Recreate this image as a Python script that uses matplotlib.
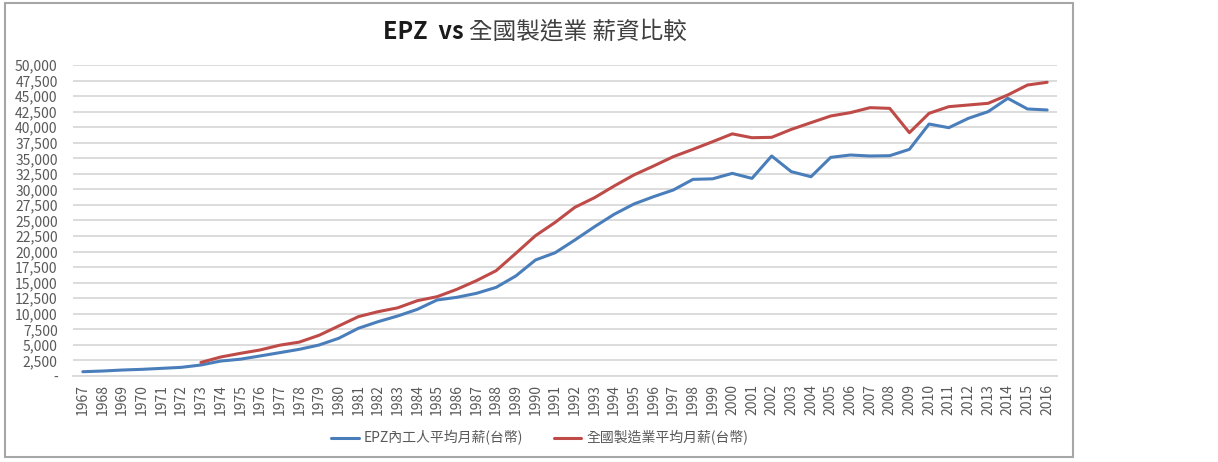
import matplotlib
matplotlib.use("Agg")
import matplotlib.pyplot as plt
from matplotlib.patches import Rectangle
from matplotlib.ticker import FuncFormatter, MultipleLocator

plt.rcParams['font.family'] = ['Noto Sans CJK TC', 'DejaVu Sans']

years = list(range(1967, 2017))

# EPZ worker average monthly wage (NTD)
epz_wage = [690, 800, 960, 1070, 1230, 1390, 1770, 2400, 2700, 3220,
            3750, 4290, 4980, 6060, 7670, 8730, 9650, 10720, 12220, 12650,
            13290, 14250, 16080, 18650, 19820, 21860, 24000, 26000, 27650, 28830,
            29900, 31610, 31700, 32580, 31770, 35370, 32850, 32040, 35150, 35530,
            35370, 35420, 36440, 40510, 39920, 41430, 42500, 44640, 42930, 42770]

# national manufacturing average monthly wage (NTD), series starts 1973
mfg_wage = [None] * 6 + [
    2180, 3050, 3640, 4180, 4950, 5450, 6540, 8040, 9540, 10340,
    10960, 12110, 12750, 13930, 15330, 16930, 19720, 22560, 24700, 27120,
    28670, 30550, 32320, 33760, 35260, 36440, 37670, 38930, 38310, 38370,
    39650, 40730, 41800, 42340, 43140, 43030, 39120, 42230, 43300, 43570,
    43840, 45180, 46780, 47220]

series_names = ["EPZ內工人平均月薪(台幣)", "全國製造業平均月薪(台幣)"]
title_latin = "EPZ  vs "
title_cjk = "全國製造業 薪資比較"

BLUE = '#4a7ebb'
RED = '#be4b48'
GRID = '#d9d9d9'
TEXT = '#595959'


def plot(ax):
    x = range(len(years))
    mfg_x = [i for i, v in zip(x, mfg_wage) if v is not None]
    mfg_y = [v for v in mfg_wage if v is not None]

    ax.plot(list(x), epz_wage, color=BLUE, lw=2.2, label=series_names[0],
            solid_joinstyle='round', solid_capstyle='round')
    ax.plot(mfg_x, mfg_y, color=RED, lw=2.2, label=series_names[1],
            solid_joinstyle='round', solid_capstyle='round')

    ax.set_xlim(-0.5, len(years) - 0.5)
    ax.set_ylim(0, 50000)
    ax.yaxis.set_major_locator(MultipleLocator(2500))
    ax.yaxis.set_major_formatter(FuncFormatter(lambda v, p: '-' if v == 0 else f'{int(v):,}'))
    ax.set_xticks(list(x))
    ax.set_xticklabels([str(y) for y in years], rotation=90)

    ax.grid(axis='y', color=GRID, lw=1.3)
    ax.set_axisbelow(True)
    for s in ['top', 'right', 'left']:
        ax.spines[s].set_visible(False)
    ax.spines['bottom'].set_color(GRID)
    ax.spines['bottom'].set_linewidth(1.3)
    ax.tick_params(axis='y', length=0, pad=11, labelsize=10, colors=TEXT)
    ax.tick_params(axis='x', length=0, pad=6, labelsize=10, colors=TEXT)


def main():
    fig = plt.figure(figsize=(12.18, 4.62), dpi=100)
    ax = fig.add_axes([73 / 1218, 1 - 376 / 462, 984 / 1218, 311 / 462])

    plot(ax)

    # chart frame
    fig.patches.append(Rectangle((5 / 1218, 1 - 457 / 462), 1068 / 1218, 454 / 462,
                                 transform=fig.transFigure, fill=False,
                                 edgecolor='#a6a6a6', lw=1.5))

    # title: bold latin part + regular CJK part, centred together
    renderer = fig.canvas.get_renderer()
    t1 = fig.text(0, 1 - 32 / 462, title_latin, ha='left', va='center',
                  fontsize=17, fontweight='bold', color='#1a1a1a')
    t2 = fig.text(0, 1 - 32 / 462, title_cjk, ha='left', va='center',
                  fontsize=17, color='#404040')
    w1 = t1.get_window_extent(renderer).width
    w2 = t2.get_window_extent(renderer).width
    x0 = 535 - (w1 + w2) / 2
    t1.set_x(x0 / 1218)
    t2.set_x((x0 + w1) / 1218)

    leg = fig.legend(loc='center', bbox_to_anchor=(540 / 1218, 1 - 438 / 462),
                     ncols=2, frameon=False, fontsize=10, handlelength=1.95,
                     handletextpad=0.4, columnspacing=2.2)
    for t in leg.get_texts():
        t.set_color(TEXT)

    fig.savefig("out.png", dpi=100)


if __name__ == '__main__':
    main()
